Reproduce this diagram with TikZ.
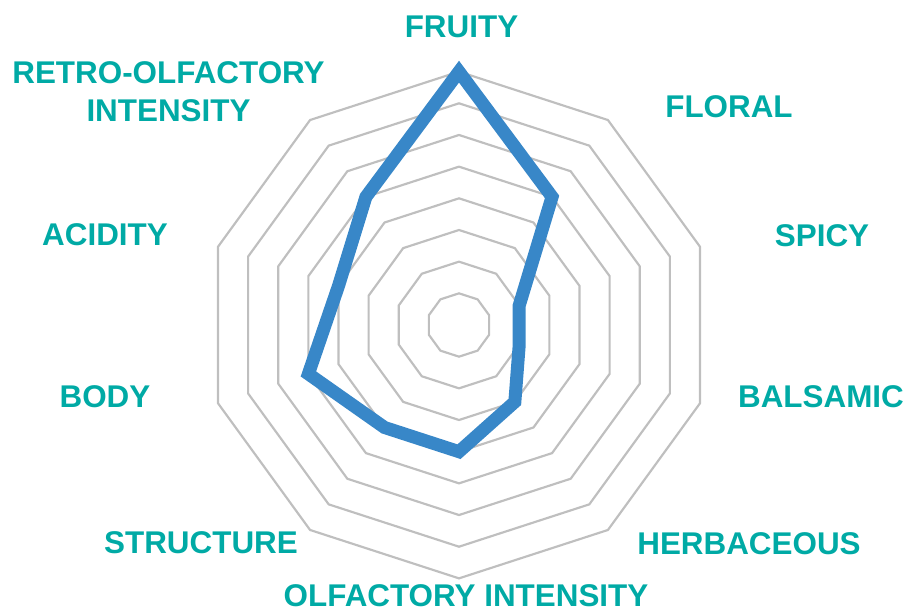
\documentclass[tikz,border=0pt]{standalone}
\usepackage{fontspec}
\setmainfont{Liberation Sans}
\definecolor{labelteal}{RGB}{0, 170, 165}
\definecolor{gridgray}{RGB}{191, 191, 191}
\definecolor{tasteblue}{RGB}{56, 135, 200}
\usepackage{tikz}
\usetikzlibrary{positioning}
\newcommand{\ringgap}{31.67}

\begin{document}
\begin{tikzpicture}[x=0.03cm, y=0.03cm,
    axislabel/.style={font=\fontsize{26.8}{32.4}\selectfont\bfseries, labelteal, align=center, inner sep=0}]
  \useasboundingbox (-459, -287) rectangle (448, 325);

  % Grid
  \foreach \r in {1,...,8}
    \draw[gridgray, line width=0.065cm] (90:{\r*\ringgap}) \foreach \a in {126,162,...,414} { -- (\a:{\r*\ringgap}) } -- cycle;

  % Profile
  \draw[tasteblue, line width=0.39cm, line join=miter] (90:{8*\ringgap})
    \foreach \a/\v in {54/5, 18/2, -18/2, -54/3, -90/4, -126/4, -162/5, 162/4, 126/5} { -- (\a:{\v*\ringgap}) } -- cycle;

  % Labels
  \node[axislabel] (fruity) at (2.5, 298) {FRUITY};
  \node[axislabel] (floral) at (270, 218) {FLORAL};
  \node[axislabel] (spicy) at (363, 89) {SPICY};
  \node[axislabel] (balsamic) at (362, -71.5) {BALSAMIC};
  \node[axislabel] (herbaceous) at (290, -218.5) {HERBACEOUS};
  \node[axislabel] (olfactory) at (7, -270.5) {OLFACTORY INTENSITY};
  \node[axislabel] (structure) at (-258, -218) {STRUCTURE};
  \node[axislabel] (body) at (-354, -71.5) {BODY};
  \node[axislabel] (acidity) at (-354, 90) {ACIDITY};
  \node[axislabel] (retro) at (-290.5, 233) {RETRO-OLFACTORY\\INTENSITY};
\end{tikzpicture}
\end{document}
